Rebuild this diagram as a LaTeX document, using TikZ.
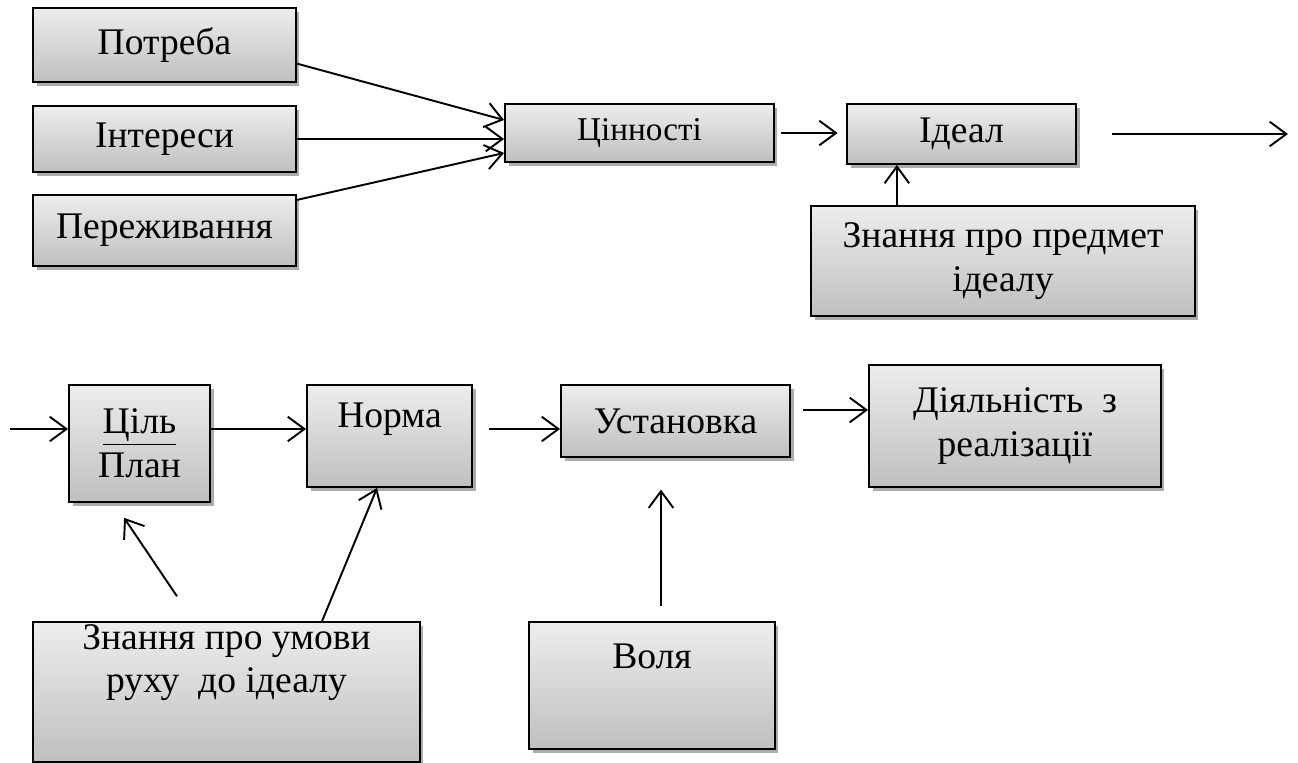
\documentclass[tikz,border=0pt]{standalone}
\usepackage{fontspec}
\setmainfont{Liberation Serif}
\usetikzlibrary{arrows.meta,shadows,calc}

\tikzset{
  blok/.style={draw, line width=1.1pt, rectangle, inner sep=2pt, align=center,
    top color=gray!14, bottom color=gray!50,
    drop shadow={shadow xshift=2pt, shadow yshift=-2.2pt, fill=gray!65, opacity=1},
    font=\fontsize{21.4}{24.9}\selectfont},
  napys/.style={inner sep=0pt, align=center, font=\fontsize{21.4}{24.9}\selectfont},
  strilka/.style={line width=1.1pt, -{Straight Barb[length=9.5pt, width=14pt]}}
}

\begin{document}
\begin{tikzpicture}[x=0.02cm, y=-0.02cm]
    \useasboundingbox (0,0) rectangle (1298,763);
    % upper row
    \node [blok, minimum width=5.26cm, minimum height=1.48cm] (potreba) at (164.5,45) {Потреба};
    \node [blok, minimum width=5.26cm, minimum height=1.32cm] (interesy) at (164.5,139) {Інтереси};
    \node [blok, minimum width=5.26cm, minimum height=1.42cm] (perezhyv) at (164.5,230.5) {Переживання};
    \node [blok, minimum width=5.38cm, minimum height=1.16cm, font=\fontsize{18.9}{22}\selectfont] (tsinnosti) at (639.5,133) {Цінності};
    \node [blok, minimum width=4.58cm, minimum height=1.2cm] (ideal) at (961.5,134) {Ідеал};
    \node [blok, minimum width=7.68cm, minimum height=2.2cm] (znpredmet) at (1003,261) {Знання про предмет\\ідеалу};
    \coordinate (vyhid) at (1288,134);
    \coordinate (ip) at ($(ideal.south west)!0.22!(ideal.south east)$);
    \draw [strilka] (potreba.-8) -- ($(tsinnosti.west)+(0,-13)$);
    \draw [strilka] (interesy.east) -- (interesy.east -| tsinnosti.west);
    \draw [strilka] (perezhyv.13) -- ($(tsinnosti.west)+(0,20)$);
    \draw [strilka, shorten <=3.4pt, shorten >=4.8pt] (tsinnosti.east) -- (tsinnosti.east -| ideal.west);
    \draw [strilka, shorten <=20pt] (ideal.east) -- (vyhid);
    \draw [strilka] (znpredmet.north -| ip) -- (ip);
    % lower row
    \node [blok, minimum width=2.82cm, minimum height=2.34cm] (tsil) at (139.5,443.5) {\underline{Ціль}\\План};
    \node [blok, minimum width=3.3cm, minimum height=2.04cm] (norma) at (389.5,436) {};
    \node [napys] (normatxt) at (389.5,419) {Норма};
    \node [blok, minimum width=4.58cm, minimum height=1.44cm] (ustanovka) at (675.5,421) {Установка};
    \node [blok, minimum width=5.84cm, minimum height=2.44cm] (diyaln) at (1015,426) {Діяльність~ з\\реалізації};
    \node [blok, minimum width=7.74cm, minimum height=2.8cm] (znumovy) at (226.5,692) {};
    \node [napys] (znumovytxt) at (226.5,662.5) {Знання про умови\\руху~ до ідеалу};
    \node [blok, minimum width=4.92cm, minimum height=2.54cm] (volya) at (652,685.5) {};
    \node [napys] (volyatxt) at (652,656) {Воля};
    \coordinate (vhid) at (10,429);
    \coordinate (u1) at ($(ustanovka.east)+(0,-11)$);
    \coordinate (v1) at ($(volya.north)+(9,0)$);
    \draw [strilka] (vhid) -- (vhid -| tsil.west);
    \draw [strilka] (vhid -| tsil.east) -- (vhid -| norma.west);
    \draw [strilka, shorten <=9pt] (vhid -| norma.east) -- (vhid -| ustanovka.west);
    \draw [strilka, shorten <=6.8pt] (u1) -- (u1 -| diyaln.west);
    \draw [strilka, shorten <=17pt, shorten >=10.2pt] ($(znumovy.north west)+(161.6,0)$) -- ($(tsil.south west)+(46,0)$);
    \draw [strilka] ($(znumovy.north west)+(290,0)$) -- ($(norma.south west)+(71,0)$);
    \draw [strilka, shorten <=8.5pt, shorten >=18pt] (v1) -- (v1 |- ustanovka.south);
\end{tikzpicture}
\end{document}
